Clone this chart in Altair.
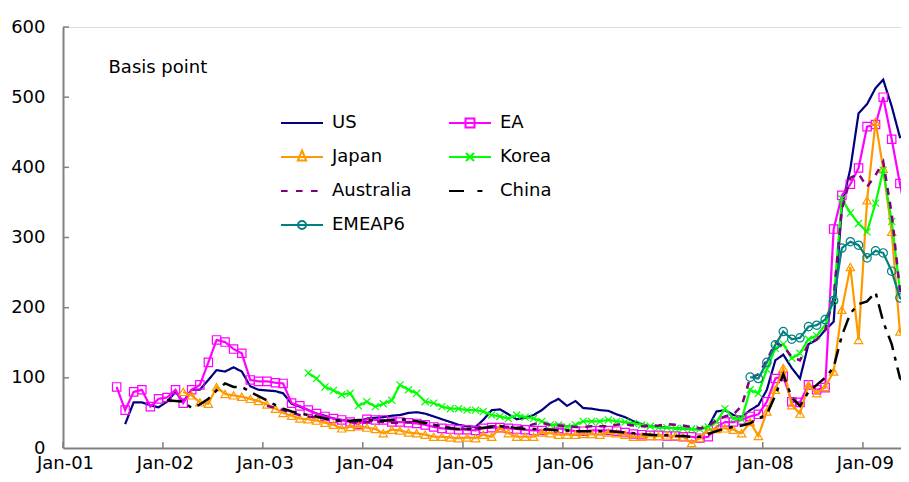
import altair as alt
import pandas as pd

# ---------------- data ----------------
names = ["US", "EA", "Japan", "Korea", "Australia", "China", "EMEAP6"]
colors = ["#000080", "#FF00FF", "#FF9900", "#00FF00", "#800080", "#000000", "#008080"]
start_months = ["2001-08", "2001-07", "2002-03", "2003-06", "2003-01", "2002-01", "2007-11"]

us = [34, 65, 65, 61, 58,
      66, 80, 66, 83, 83, 97, 111, 109, 115, 109, 88, 83,
      82, 81, 78, 63, 59, 54, 49, 46, 42, 40, 38, 37,
      42, 43, 44, 46, 47, 50, 51, 49, 45, 41, 37, 33,
      31, 30, 40, 54, 55, 48, 41, 43, 47, 54, 64, 70,
      60, 67, 57, 56, 54, 53, 48, 44, 38, 34, 31, 30,
      29, 28, 28, 27, 27, 30, 52, 54, 47, 44, 54, 61,
      83, 125, 133, 114, 99, 148, 154, 168, 180, 345, 398, 477,
      490, 513, 525, 487, 443, 445]
ea = [87, 54, 80, 83, 59, 70,
      72, 83, 64, 83, 90, 122, 154, 151, 141, 135, 97, 95,
      95, 93, 92, 64, 60, 54, 49, 45, 42, 40, 37, 34,
      41, 40, 40, 37, 37, 36, 35, 33, 30, 28, 27, 26,
      26, 25, 28, 29, 29, 28, 27, 26, 25, 25, 27, 28,
      26, 24, 24, 25, 25, 25, 24, 22, 20, 19, 18, 18,
      17, 17, 16, 16, 14, 16, 30, 37, 37, 40, 45, 48,
      66, 99, 102, 66, 65, 90, 83, 86, 312, 360, 376, 399,
      458, 461, 500, 440, 377, 315]
japan = [80, 75, 65, 63, 87, 77, 75, 73, 70, 67,
         62, 56, 50, 46, 42, 41, 39, 36, 33, 28, 30, 31,
         29, 27, 21, 26, 25, 22, 21, 19, 16, 16, 15, 14,
         15, 14, 19, 16, 28, 21, 16, 16, 16, 22, 21, 19,
         19, 19, 20, 20, 19, 22, 21, 19, 16, 16, 17, 17,
         18, 17, 16, 7, 14, 26, 27, 28, 26, 21, 37, 17,
         52, 83, 114, 61, 49, 90, 78, 87, 109, 197, 258, 154,
         353, 465, 398, 308, 166, 147]
korea = [107, 99, 87, 82, 76, 78, 60,
         66, 59, 63, 68, 90, 83, 78, 66, 64, 59, 56, 56,
         54, 54, 52, 47, 45, 42, 47, 44, 42, 38, 33, 33,
         30, 33, 38, 38, 38, 40, 38, 37, 35, 33, 31, 29,
         29, 28, 28, 27, 27, 30, 37, 56, 42, 41, 83, 78,
         112, 142, 148, 128, 135, 155, 160, 175, 211, 355, 335, 320,
         308, 349, 396, 323, 225, 211]
australia = [60, 57, 54, 50, 47, 45, 44, 42, 40, 38, 37, 36,
             37, 38, 37, 36, 36, 37, 36, 35, 33, 31, 29, 28,
             27, 28, 30, 31, 31, 30, 29, 30, 34, 36, 33, 32,
             31, 30, 30, 31, 31, 31, 33, 34, 32, 31, 31, 32,
             34, 33, 32, 30, 28, 31, 40, 45, 48, 60, 100, 105,
             125, 150, 145, 130, 125, 148, 155, 168, 215, 340, 385, 391,
             372, 389, 408, 334, 225, 205]
china = [68, 67, 66, 57, 62, 70, 82, 92, 87, 87, 80, 74,
         68, 61, 56, 52, 49, 47, 45, 42, 40, 39, 39, 40,
         40, 39, 39, 40, 41, 40, 38, 36, 33, 30, 28, 27,
         27, 27, 29, 30, 31, 30, 28, 27, 27, 27, 26, 25,
         25, 24, 24, 24, 24, 24, 23, 22, 21, 20, 19, 18,
         18, 17, 17, 16, 16, 20, 24, 28, 30, 32, 35, 42,
         48, 75, 105, 72, 60, 80, 90, 100, 115, 160, 192, 205,
         209, 222, 180, 148, 100, 88]
emeap6 = [101, 99,
          122, 147, 166, 155, 157, 173, 175, 183, 210, 285, 294, 289,
          271, 281, 278, 252, 214, 205]

series_values = [us, ea, japan, korea, australia, china, emeap6]
year_ticks = [2001, 2002, 2003, 2004, 2005, 2006, 2007, 2008, 2009]
y_ticks = [0, 100, 200, 300, 400, 500, 600]

# ---------------- styles ----------------
dash_patterns = [[1, 0], [1, 0], [1, 0], [1, 0], [7, 7], [15, 7, 4, 7], [1, 0]]
marker_shapes = [None, "square", "triangle-up", "M-1,-1L1,1M-1,1L1,-1", None, None, "circle"]
legend_paths = [
    "M-2.1,0H2.1",
    "M-2.1,0H2.1M-0.45,-0.45H0.45V0.45H-0.45Z",
    "M-2.1,0H2.1M0,-0.65L0.42,0.35H-0.42Z",
    "M-2.1,0H2.1M-0.4,-0.4L0.4,0.4M-0.4,0.4L0.4,-0.4",
    "M-2.1,0H-1.44M-0.6,0H0.06M0.9,0H1.56",
    "M-2.1,0H-0.6M0.74,0H1.24",
    "M-2.1,0H2.1M0.4,0A0.4,0.4 0 1,1 -0.4,0A0.4,0.4 0 1,1 0.4,0",
]

rows = []
for s, start, vals in zip(names, start_months, series_values):
    dates = pd.date_range(start + "-16", periods=len(vals), freq=pd.DateOffset(months=1))
    for d, v in zip(dates, vals):
        rows.append({"series": s, "date": d.strftime("%Y-%m-%d"), "value": v})
df = pd.DataFrame(rows)

W, H = 838, 421
FONT = "DejaVu Sans"
AXIS_GRAY = "#808080"

x_scale = alt.Scale(domain=[alt.DateTime(year=2001, month=1, date=1),
                            alt.DateTime(year=2009, month=5, date=20)])
y_scale = alt.Scale(domain=[0, 600])

x_axis = alt.Axis(values=[alt.DateTime(year=yy, month=1, date=1) for yy in year_ticks],
                  format="%b-%y", title=None, grid=False, ticks=False,
                  labelFlush=False, labelOverlap=False, labelBound=False,
                  labelPadding=6, labelOffset=2, labelFontSize=18, labelFont=FONT,
                  labelColor="black", domainColor=AXIS_GRAY, domainWidth=2)
y_axis = alt.Axis(values=y_ticks, title="Basis point", grid=False, ticks=False,
                  labelFlush=False, labelOverlap=False, labelPadding=18,
                  labelFontSize=18, labelFont=FONT, labelColor="black",
                  domainColor=AXIS_GRAY, domainWidth=2,
                  titleAngle=0, titleX=45, titleY=40, titleAlign="left",
                  titleBaseline="middle", titleFontWeight="normal",
                  titleFontSize=18, titleFont=FONT, titleColor="black")

x_enc = alt.X("date:T", scale=x_scale, axis=x_axis)
y_enc = alt.Y("value:Q", scale=y_scale, axis=y_axis)

layers = []
for s, c, dash, shp in zip(names, colors, dash_patterns, marker_shapes):
    base = alt.Chart(df).transform_filter(alt.datum.series == s)
    sw = 2.5 if dash != [1, 0] else 2.2
    layers.append(base.mark_line(color=c, strokeWidth=sw, strokeDash=dash, clip=True)
                  .encode(x=x_enc, y=y_enc))
    if shp is not None:
        size = 50 if shp.startswith("M") else 70
        layers.append(base.mark_point(shape=shp, color=c, filled=False, size=size,
                                      strokeWidth=1.2, opacity=1, clip=True)
                      .encode(x=x_enc, y=y_enc))

# inside tick marks
xt_df = pd.DataFrame({"date": [f"{yy}-01-01" for yy in year_ticks]})
layers.append(alt.Chart(xt_df).mark_rule(color=AXIS_GRAY, strokeWidth=1.5).encode(
    x=alt.X("date:T", scale=x_scale, axis=x_axis), y=alt.value(H), y2=alt.value(H - 6)))
yt_df = pd.DataFrame({"value": y_ticks[1:]})
layers.append(alt.Chart(yt_df).mark_rule(color=AXIS_GRAY, strokeWidth=1.5).encode(
    y=alt.Y("value:Q", scale=y_scale, axis=y_axis), x=alt.value(0), x2=alt.value(6)))

# legend layer
leg = alt.Legend(orient="none", legendX=218, legendY=85, columns=2, direction="horizontal",
                 title=None, symbolSize=400, symbolStrokeWidth=2, symbolOpacity=1,
                 symbolOffset=10, labelOffset=19, rowPadding=14, columnPadding=33,
                 padding=0, labelFontSize=18, labelFont=FONT, labelColor="black")
legend_df = pd.DataFrame({"series": names})
layers.append(alt.Chart(legend_df).mark_point(opacity=0, filled=False).encode(
    shape=alt.Shape("series:N", scale=alt.Scale(domain=names, range=legend_paths), legend=leg),
    stroke=alt.Stroke("series:N", scale=alt.Scale(domain=names, range=colors), legend=leg),
))

chart = alt.layer(*layers).properties(
    width=W, height=H,
    padding={"left": 55, "top": 19, "right": 0, "bottom": 26},
    autosize=alt.AutoSizeParams(type="none"),
    background="white",
).configure_view(stroke=None).configure(font=FONT)

chart.save("out.html", embed_options={"renderer": "svg", "actions": False})
